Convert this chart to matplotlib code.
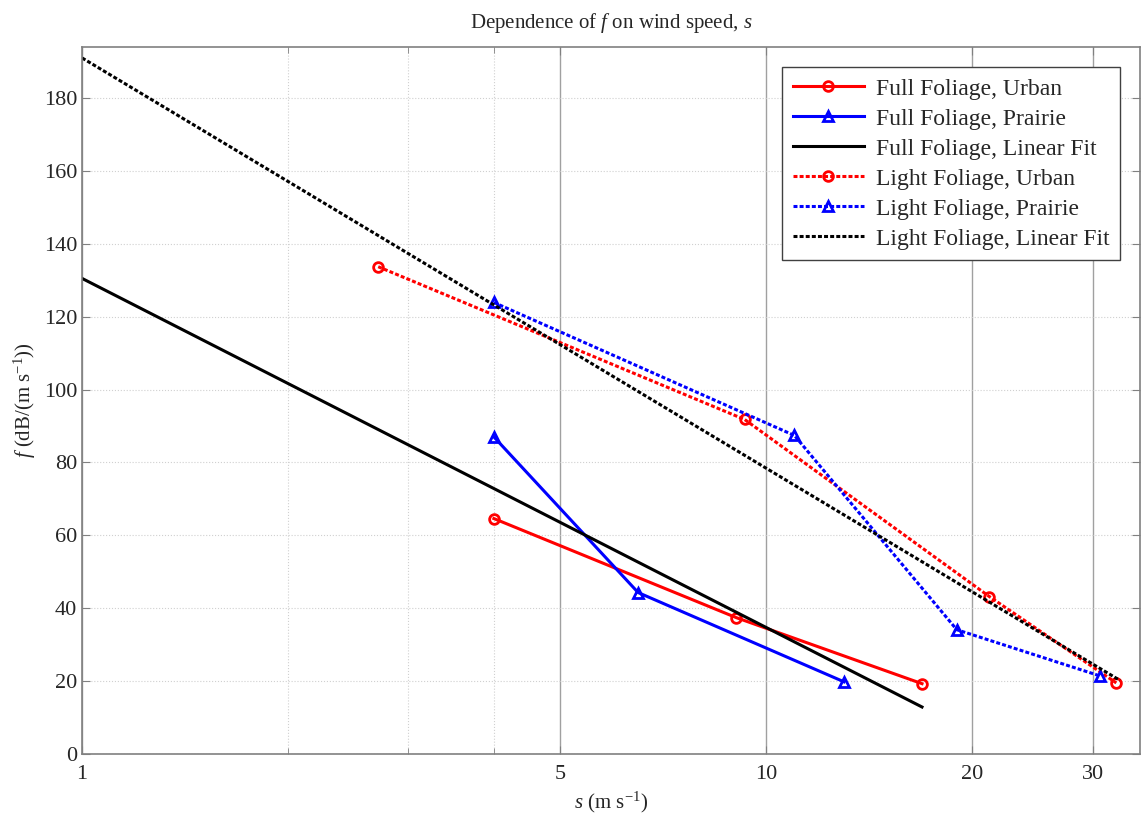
import numpy as np
import matplotlib
matplotlib.use("Agg")
import matplotlib.pyplot as plt
from matplotlib.ticker import FixedLocator, FixedFormatter, NullFormatter

plt.rcParams['font.family'] = ['Liberation Serif', 'DejaVu Serif']
plt.rcParams['mathtext.fontset'] = 'custom'
plt.rcParams['mathtext.rm'] = 'Liberation Serif'
plt.rcParams['mathtext.it'] = 'Liberation Serif:italic'

# data
full_urban_s = [4.0, 9.05, 16.9]
full_urban_f = [64.6, 37.4, 19.3]
full_prairie_s = [4.0, 6.5, 13.0]
full_prairie_f = [87.0, 44.3, 19.8]
full_fit_s = [1.0, 16.9]
full_fit_f = [130.5, 12.9]

light_urban_s = [2.71, 9.3, 21.2, 32.5]
light_urban_f = [133.7, 91.8, 43.2, 19.5]
light_prairie_s = [4.0, 11.0, 19.0, 30.8]
light_prairie_f = [123.9, 87.4, 34.1, 21.4]
light_fit_s = [1.0, 32.9]
light_fit_f = [191.0, 20.2]

xticks = [1, 5, 10, 20, 30]
yticks = list(range(0, 181, 20))

fig = plt.figure(figsize=(11.44, 8.21), dpi=100)
ax = fig.add_axes([0.0717, 0.0816, 0.9248, 0.8612])

lw = 2.2
dot = (0, (1.3, 0.7))
ax.plot(full_urban_s, full_urban_f, color='red', lw=lw, marker='o', ms=7,
        mfc='none', mew=2, label='Full Foliage, Urban')
ax.plot(full_prairie_s, full_prairie_f, color='blue', lw=lw, marker='^', ms=7,
        mfc='none', mew=2, label='Full Foliage, Prairie')
ax.plot(full_fit_s, full_fit_f, color='black', lw=lw, label='Full Foliage, Linear Fit')
ax.plot(light_urban_s, light_urban_f, color='red', lw=lw, ls=dot, marker='o', ms=7,
        mfc='none', mew=2, label='Light Foliage, Urban')
ax.plot(light_prairie_s, light_prairie_f, color='blue', lw=lw, ls=dot, marker='^', ms=7,
        mfc='none', mew=2, label='Light Foliage, Prairie')
ax.plot(light_fit_s, light_fit_f, color='black', lw=lw, ls=dot, label='Light Foliage, Linear Fit')

ax.set_xscale('log')
ax.set_xlim(1, 35.2)
ax.set_ylim(0, 194)
ax.xaxis.set_major_locator(FixedLocator(xticks))
ax.xaxis.set_major_formatter(FixedFormatter([str(t) for t in xticks]))
ax.xaxis.set_minor_locator(FixedLocator([2, 3, 4]))
ax.xaxis.set_minor_formatter(NullFormatter())
ax.set_yticks(yticks)

ax.grid(True, which='major', axis='x', color='#a0a0a0', lw=1.0, ls='-')
ax.grid(True, which='minor', axis='x', color='#d0d0d0', lw=0.8, ls=':')
ax.grid(True, which='major', axis='y', color='#d0d0d0', lw=0.8, ls=':')
ax.set_axisbelow(True)

for sp in ax.spines.values():
    sp.set_color('#808080')
    sp.set_linewidth(1.2)
ax.tick_params(which='both', direction='in', top=True, right=True, color='#808080',
               labelsize=16, labelcolor='#262626')
ax.tick_params(which='major', length=6)
ax.tick_params(which='minor', length=4)
ax.tick_params(axis='x', pad=8)

ax.set_xlabel('$s$ (m s$^{-1}$)', fontsize=15, color='#262626', labelpad=4)
ax.set_ylabel('$f$ (dB/(m s$^{-1}$))', fontsize=15, color='#262626', labelpad=4)
ax.set_title('Dependence of $f$ on wind speed, $s$', fontsize=15, color='#262626', pad=14)

leg = ax.legend(loc='upper right', bbox_to_anchor=(0.981, 0.971), borderaxespad=0,
                fontsize=17, fancybox=False, framealpha=1, edgecolor='#404040',
                handlelength=3.0, labelspacing=0.36, borderpad=0.45, handletextpad=0.5)
leg.get_frame().set_linewidth(1.0)
for t in leg.get_texts():
    t.set_color('#262626')

fig.savefig('out.png', dpi=100)
